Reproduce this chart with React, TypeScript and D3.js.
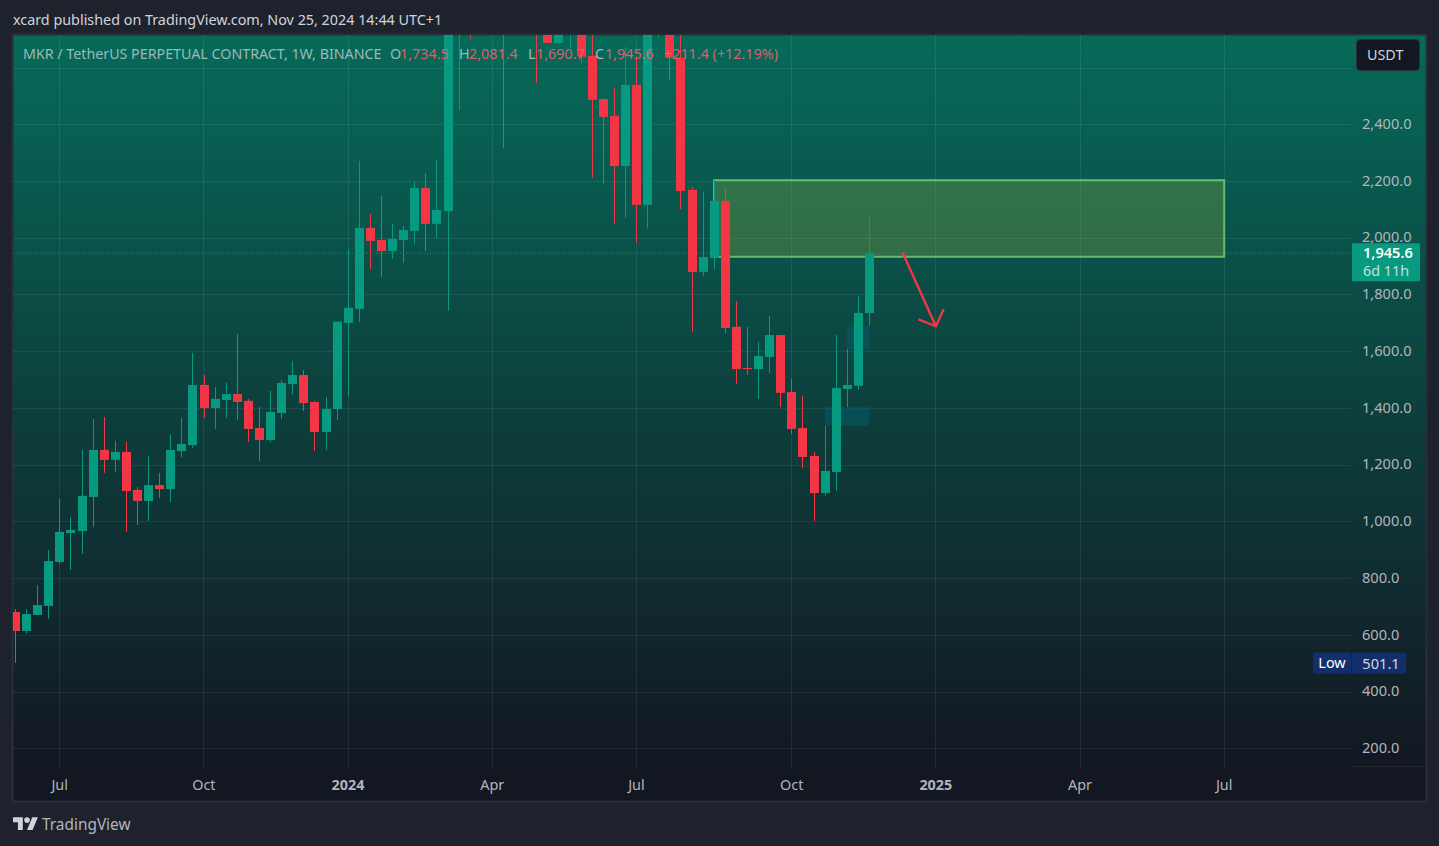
import * as d3 from "d3";
import { useEffect, useRef } from "react";

// weekly candles. bars above about 2,715 are cut by the pane so those are guesses
const opens = [680.6, 613.6, 670, 702, 857, 959, 966, 1086, 1252, 1217, 1245, 1111, 1072, 1128, 1114, 1248, 1269, 1481, 1400, 1428, 1449, 1425, 1329, 1287, 1382, 1484, 1516, 1421, 1315, 1396, 1700, 1749, 2035, 1992, 1953, 1992, 2024, 2176, 2049, 2094, 2850, 2960, 2800, 3100, 2950, 2780, 2950, 3000, 2800, 2687, 2780, 3000, 2641, 2489, 2430, 2253, 2539, 2116, 2760, 2800, 2634, 2169, 1880, 1929, 2130, 1686, 1541, 1537, 1580, 1657, 1456, 1329, 1231, 1100, 1174, 1467, 1478, 1734.5];
const highs = [691, 691, 776, 899, 1079, 1015, 1252, 1361, 1368, 1284, 1280, 1121, 1231, 1171, 1305, 1365, 1594, 1516, 1474, 1488, 1661, 1432, 1403, 1460, 1499, 1566, 1534, 1425, 1439, 1704, 1959, 2271, 2084, 2147, 2049, 2042, 2200, 2228, 2274, 2900, 3150, 3030, 3300, 3300, 3030, 3000, 3100, 3100, 2900, 3150, 3100, 3100, 2800, 2493, 2528, 2673, 2640, 2850, 2900, 2900, 2760, 2179, 2162, 2204, 2176, 1777, 1686, 1633, 1724, 1657, 1502, 1442, 1245, 1337, 1657, 1608, 1795, 2081.4];
const lows = [501.1, 604, 670, 656, 850, 829, 885, 980, 1171, 1174, 963, 987, 1001, 1083, 1068, 1227, 1259, 1365, 1326, 1365, 1358, 1280, 1213, 1280, 1361, 1449, 1389, 1248, 1252, 1358, 1440, 1703, 1890, 1862, 1925, 1911, 1978, 1953, 1999, 1742, 2451, 2701, 2750, 2770, 2316, 2730, 2900, 2546, 2687, 2687, 2668, 2615, 2211, 2190, 2049, 2070, 1982, 2035, 2705, 2556, 2101, 1668, 1865, 1890, 1664, 1485, 1516, 1432, 1523, 1403, 1308, 1188, 1001, 1090, 1107, 1403, 1464, 1690.7];
const closes = [613.6, 673.5, 705, 860, 963, 970, 1090, 1252, 1217, 1245, 1107, 1072, 1128, 1114, 1252, 1273, 1481, 1400, 1432, 1449, 1421, 1326, 1287, 1386, 1488, 1516, 1417, 1315, 1396, 1704, 1753, 2035, 1989, 1953, 1996, 2027, 2176, 2049, 2098, 2850, 2960, 2800, 3100, 2950, 2780, 2950, 3000, 2800, 2687, 2780, 3000, 2638, 2486, 2426, 2253, 2539, 2116, 2760, 2800, 2634, 2165, 1879, 1932, 2130, 1682, 1537, 1537, 1583, 1657, 1453, 1326, 1227, 1100, 1178, 1470, 1481, 1735, 1945.6];

const priceTicks = [200, 400, 600, 800, 1000, 1200, 1400, 1600, 1800, 2000, 2200, 2400, 2600];
const timeTicks = ["2023-07-03", "2023-10-02", "2024-01-01", "2024-04-01", "2024-07-01", "2024-10-07", "2025-01-06", "2025-04-07", "2025-07-07"];
const timeLabels = ["Jul", "Oct", "2024", "Apr", "Jul", "Oct", "2025", "Apr", "Jul"];

const lastPrice = 1945.6;
const lowPrice = 501.1;
const legendTitle = "MKR / TetherUS PERPETUAL CONTRACT, 1W, BINANCE";
const headerText = "xcard published on TradingView.com, Nov 25, 2024 14:44 UTC+1";

// drawings on the chart: [week, price]
const zoneStart = "2024-08-19";
const zoneEnd = "2025-07-07";
const zonePrices = [2203, 1933];
const arrowLine = [["2024-12-16", 1948], ["2025-01-06", 1688]] as [string, number][];
const arrowHead = [["2024-12-26", 1712], ["2025-01-06", 1688], ["2025-01-11", 1749]] as [string, number][];
const darkBoxes = [
  ["2024-10-28", "2024-11-25", 1403, 1337],
  ["2024-11-11", "2024-11-25", 1693, 1608],
] as [string, string, number, number][];

const GREEN = "#089981";
const RED = "#f23645";
const FONT = "'Noto Sans', sans-serif";
const GRID = "rgba(240,243,250,0.08)";

const date = (s: string) => new Date(s + "T00:00:00Z");

export default function App() {
  const svgRef = useRef<SVGSVGElement | null>(null);

  useEffect(() => {
    const width = 1439;
    const height = 846;
    const pane = { left: 13, right: 1426, top: 35, bottom: 801 };
    const plotRight = 1351;
    const plotBottom = 767;

    const firstWeek = date("2023-06-05");
    const weeks = opens.map((_, i) => d3.utcMonday.offset(firstWeek, i));

    const x = d3.scaleUtc().domain([firstWeek, weeks[weeks.length - 1]]).range([15.3, 869.3]);
    const y = d3.scaleLinear().domain([200, 2400]).range([748.3, 124.3]);
    const barX = (d: Date) => Math.floor(x(d) + 0.2);

    const svg = d3.select(svgRef.current);
    svg.selectAll("*").remove();
    svg.attr("width", width).attr("height", height);

    const defs = svg.append("defs");
    const grad = defs.append("linearGradient").attr("id", "paneBg")
      .attr("gradientUnits", "userSpaceOnUse")
      .attr("x1", 0).attr("x2", 0).attr("y1", pane.top).attr("y2", plotBottom);
    grad.append("stop").attr("offset", "0%").attr("stop-color", "#066a59");
    grad.append("stop").attr("offset", "100%").attr("stop-color", "#131722");
    defs.append("clipPath").attr("id", "plotClip").append("rect")
      .attr("x", pane.left).attr("y", pane.top)
      .attr("width", plotRight - pane.left).attr("height", plotBottom - pane.top);

    // page and pane
    svg.append("rect").attr("width", width).attr("height", height).attr("fill", "#1e222d");
    svg.append("rect")
      .attr("x", pane.left - 0.5).attr("y", pane.top - 0.5)
      .attr("width", pane.right - pane.left + 1).attr("height", pane.bottom - pane.top + 1)
      .attr("fill", "url(#paneBg)").attr("stroke", "#2a2e39").attr("stroke-width", 2);

    // grid
    const gridY = svg.append("g")
      .attr("transform", `translate(${pane.left},0)`)
      .call(d3.axisRight(y).tickValues(priceTicks).tickSize(plotRight - pane.left).tickFormat(() => ""));
    gridY.select(".domain").remove();
    gridY.selectAll("line").attr("stroke", GRID).attr("shape-rendering", "crispEdges");

    const tickDates = timeTicks.map(date);
    const gridX = svg.append("g")
      .attr("transform", `translate(0,${pane.top})`)
      .call(d3.axisBottom(x).offset(0).tickValues(tickDates).tickSize(plotBottom - pane.top).tickFormat(() => ""));
    gridX.select(".domain").remove();
    gridX.selectAll("line").attr("stroke", GRID).attr("shape-rendering", "crispEdges");

    svg.append("line")
      .attr("x1", plotRight).attr("x2", pane.right)
      .attr("y1", plotBottom - 0.5).attr("y2", plotBottom - 0.5)
      .attr("stroke", GRID);

    const plot = svg.append("g").attr("clip-path", "url(#plotClip)");

    // the two dark blocks sit behind the candles
    plot.selectAll("rect.dark").data(darkBoxes).join("rect")
      .attr("class", "dark")
      .attr("x", d => x(date(d[0])))
      .attr("y", d => y(d[2]))
      .attr("width", d => x(date(d[1])) - x(date(d[0])))
      .attr("height", d => y(d[3]) - y(d[2]))
      .attr("fill", "rgba(4,90,100,0.6)");

    // zone goes under the candles, same as the reference
    const zoneX = x(date(zoneStart));
    const zoneW = x(date(zoneEnd)) - zoneX;
    plot.append("rect")
      .attr("x", zoneX).attr("y", y(zonePrices[0]))
      .attr("width", zoneW).attr("height", y(zonePrices[1]) - y(zonePrices[0]))
      .attr("fill", "rgba(205,220,57,0.2)")
      .attr("stroke", "#66bb6a").attr("stroke-width", 2);

    // last price dotted line
    plot.append("line")
      .attr("x1", pane.left).attr("x2", plotRight)
      .attr("y1", y(lastPrice)).attr("y2", y(lastPrice))
      .attr("stroke", GREEN).attr("stroke-dasharray", "1 2");

    // candles
    const bars = plot.selectAll("g.bar").data(weeks).join("g").attr("class", "bar");
    const colour = (i: number) => (closes[i] >= opens[i] ? GREEN : RED);
    bars.append("line")
      .attr("x1", d => barX(d) + 0.5).attr("x2", d => barX(d) + 0.5)
      .attr("y1", (_, i) => y(highs[i])).attr("y2", (_, i) => y(lows[i]))
      .attr("stroke", (_, i) => colour(i));
    bars.append("rect")
      .attr("x", d => barX(d) - 4)
      .attr("width", 9)
      .attr("y", (_, i) => y(Math.max(opens[i], closes[i])))
      .attr("height", (_, i) => Math.max(1, Math.abs(y(opens[i]) - y(closes[i]))))
      .attr("fill", (_, i) => colour(i));

    // arrow
    const arrow = d3.line<[string, number]>().x(d => x(date(d[0]))).y(d => y(d[1]));
    plot.append("path").attr("d", arrow(arrowLine)).attr("fill", "none").attr("stroke", RED).attr("stroke-width", 2.4);
    plot.append("path").attr("d", arrow(arrowHead)).attr("fill", "none").attr("stroke", RED).attr("stroke-width", 2.4);

    // price axis labels
    const axisY = svg.append("g")
      .attr("transform", `translate(${plotRight},-0.5)`)
      .call(d3.axisRight(y).tickValues(priceTicks.filter(p => p <= 2400)).tickSize(0).tickPadding(11).tickFormat(d => d3.format(",.1f")(d as number)));
    axisY.select(".domain").remove();
    axisY.selectAll("text").attr("font-family", FONT).attr("font-size", 14.6).attr("fill", "#b2b5be");

    // time axis labels
    const axisX = svg.append("g")
      .attr("transform", `translate(0,${plotBottom})`)
      .call(d3.axisBottom(x).offset(0).tickValues(tickDates).tickSize(0).tickPadding(12.5).tickFormat((_, i) => timeLabels[i]));
    axisX.select(".domain").remove();
    axisX.selectAll("text")
      .attr("font-family", FONT).attr("font-size", 14.4).attr("fill", "#b2b5be")
      .attr("font-weight", (_, i) => (timeLabels[i].length === 4 ? 700 : 400));

    const text = (tx: number, ty: number, s: string, fill: string, size = 14.35, anchor = "start", weight = 400) =>
      svg.append("text")
        .attr("x", tx).attr("y", ty).attr("fill", fill)
        .attr("font-family", FONT).attr("font-size", size)
        .attr("font-weight", weight).attr("text-anchor", anchor)
        .attr("dominant-baseline", "central").text(s);

    // header + legend
    text(13, 19, headerText, "#d1d4dc");
    text(23, 53, legendTitle, "rgba(209,212,220,0.75)", 14.25);
    const legendVals: [number, string, string][] = [
      [390, "O", "1,734.5"], [459, "H", "2,081.4"], [528, "L", "1,690.7"], [595, "C", "1,945.6"],
    ];
    legendVals.forEach(([lx, k, v]) => {
      text(lx, 53, k, "rgba(209,212,220,0.75)");
      text(lx + (k === "L" ? 8 : 10), 53, v, "rgba(255,95,115,0.85)");
    });
    text(664, 53, "+211.4 (+12.19%)", "rgba(255,95,115,0.85)");

    // USDT button
    svg.append("rect").attr("x", 1356.5).attr("y", 39.5).attr("width", 63).attr("height", 31).attr("rx", 4)
      .attr("fill", "#131722").attr("stroke", "#2a2e39");
    text(1367, 54, "USDT", "#d1d4dc");

    // last price tag
    svg.append("rect").attr("x", 1352).attr("y", y(lastPrice) - 10).attr("width", 68).attr("height", 38).attr("rx", 1).attr("fill", GREEN);
    text(1363, y(lastPrice) - 1, "1,945.6", "#ffffff", 14.6, "start", 600);
    text(1363, y(lastPrice) + 17, "6d 11h", "rgba(255,255,255,0.75)");

    // low tag
    const lowY = y(lowPrice);
    svg.append("rect").attr("x", 1313).attr("y", lowY - 10.5).attr("width", 93).attr("height", 21).attr("rx", 2).attr("fill", "#132f6b");
    svg.append("line").attr("x1", 1351.5).attr("x2", 1351.5).attr("y1", lowY - 10.5).attr("y2", lowY + 10.5).attr("stroke", "#1e222d");
    text(1332, lowY, "Low", "#ffffff", 14.4, "middle");
    text(1381, lowY, lowPrice.toFixed(1), "#d1d4dc", 14.6, "middle");

    // logo
    const logo = svg.append("g").attr("transform", "translate(13,814.5) scale(0.7)").attr("fill", "#d1d4dc");
    logo.append("path").attr("d", "M14 22H7V11H0V4h14v18zM28 22h-8l7.5-18h8L28 22z");
    logo.append("circle").attr("cx", 20).attr("cy", 8).attr("r", 4);
    text(42, 824, "TradingView", "#b2b5be", 15.4);
  }, []);

  return <svg ref={svgRef} style={{ position: "absolute", top: 0, left: 0, display: "block" }} />;
}
